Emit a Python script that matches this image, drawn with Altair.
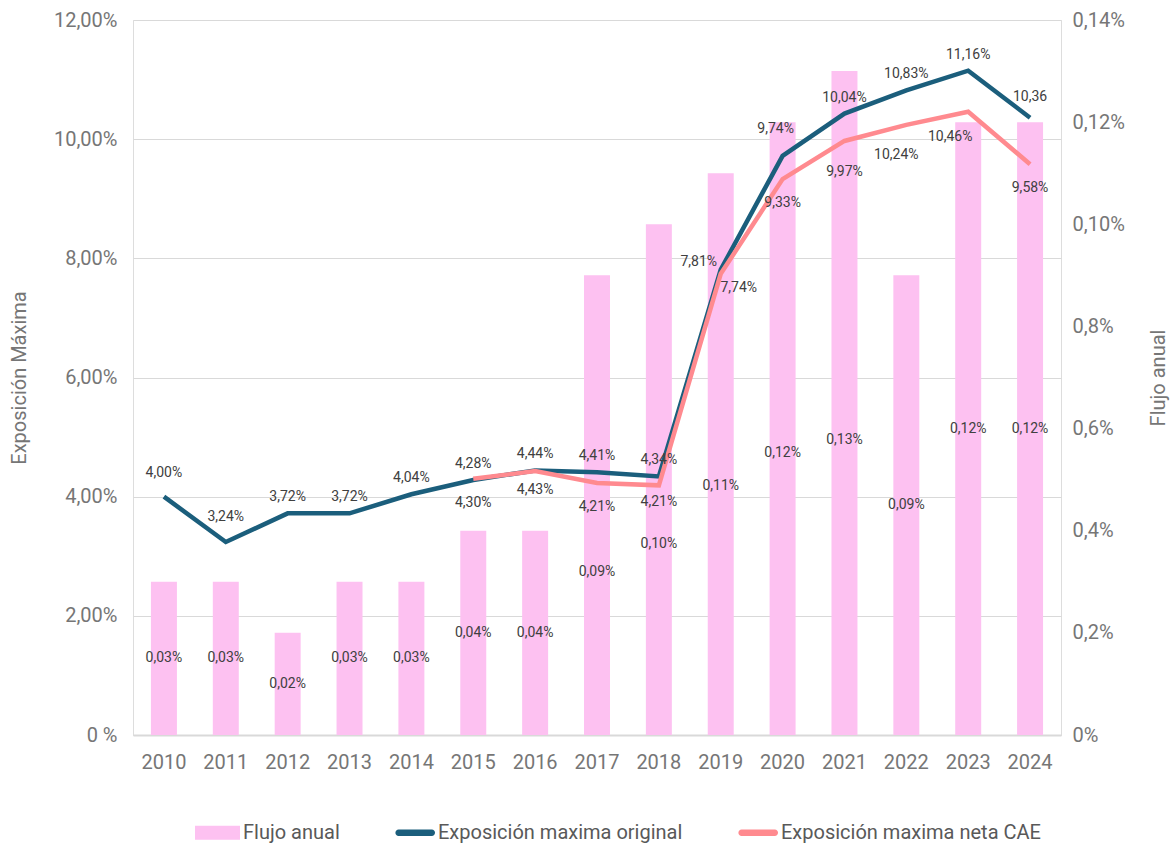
import altair as alt
import pandas as pd

years = list(range(2010, 2025))
flujo = [0.03, 0.03, 0.02, 0.03, 0.03, 0.04, 0.04, 0.09, 0.10, 0.11, 0.12, 0.13, 0.09, 0.12, 0.12]
flujo_labels = ["0,03%", "0,03%", "0,02%", "0,03%", "0,03%", "0,04%", "0,04%", "0,09%",
                "0,10%", "0,11%", "0,12%", "0,13%", "0,09%", "0,12%", "0,12%"]
original = [4.00, 3.24, 3.72, 3.72, 4.04, 4.28, 4.44, 4.41, 4.34, 7.81, 9.72, 10.43, 10.82, 11.15, 10.36]
original_labels = ["4,00%", "3,24%", "3,72%", "3,72%", "4,04%", "4,28%", "4,44%", "4,41%", "4,34%",
                   "7,81%", "9,74%", "10,04%", "10,83%", "11,16%", "10,36"]
neta_years = list(range(2015, 2025))
neta = [4.30, 4.43, 4.23, 4.19, 7.74, 9.33, 9.97, 10.24, 10.46, 9.58]
neta_labels = ["4,30%", "4,43%", "4,21%", "4,21%", "7,74%", "9,33%", "9,97%", "10,24%", "10,46%", "9,58%"]

S_BAR = "Flujo anual"
S_ORIG = "Exposición maxima original"
S_NETA = "Exposición maxima neta CAE"

PINK = "#fdc1f1"
TEAL = "#1b5e7c"
SALMON = "#ff8a8f"
GRID = "#d9d9d9"
AXIS_TXT = "#767676"
LBL_TXT = "#404040"
FONT = "Roboto"

bars_df = pd.DataFrame({"year": years, "value": flujo, "label": flujo_labels, "serie": S_BAR})
orig_df = pd.DataFrame({"year": years, "value": original, "label": original_labels, "serie": S_ORIG})
neta_df = pd.DataFrame({"year": neta_years, "value": neta, "label": neta_labels, "serie": S_NETA})
lines_df = pd.concat([orig_df, neta_df], ignore_index=True)

x_enc = alt.X(
    "year:O",
    scale=alt.Scale(paddingInner=0.58, paddingOuter=0.29),
    axis=alt.Axis(title=None, labelAngle=0, labelFontSize=20, labelColor=AXIS_TXT,
                  labelFont=FONT, domainColor=GRID, domainWidth=2, ticks=False,
                  labelPadding=17, grid=False),
)

LINE_PATH = "M-0.62,-0.14H0.86A0.14,0.14 0 0 1 0.86,0.14H-0.62A0.14,0.14 0 0 1 -0.62,-0.14Z"
BAR_PATH = "M-1,-0.31H1V0.31H-1Z"
color_scale = alt.Scale(domain=[S_BAR, S_ORIG, S_NETA], range=[PINK, TEAL, SALMON])
legend = alt.Legend(
    title=None, orient="none", direction="horizontal", legendX=62, legendY=790,
    labelFontSize=20, labelColor="#595959", labelFont=FONT, labelLimit=0,
    symbolType={"expr": f"datum.value == 'Flujo anual' ? '{BAR_PATH}' : '{LINE_PATH}'"},
    symbolFillColor={"expr": "scale('color', datum.value)"},
    symbolStrokeWidth=0, symbolSize=2025, symbolOpacity=1,
    columnPadding=50, labelOffset=3,
)

right_axis = alt.Axis(
    orient="right", title="Flujo anual", values=[0, 0.02, 0.04, 0.06, 0.08, 0.10, 0.12, 0.14],
    labelExpr="datum.value == 0 ? '0%' : '0,' + format(round(datum.value * 100), 'd') + '%'",
    grid=False, ticks=False, domain=False, labelFontSize=20, labelColor=AXIS_TXT, labelFont=FONT,
    labelPadding=11, titleFontSize=20, titleColor=AXIS_TXT, titleFont=FONT, titleFontWeight="normal",
    titleAngle=270, titlePadding=44,
)
y_right_scale = alt.Scale(domain=[0, 0.14], nice=False)
y_right = alt.Y("value:Q", scale=y_right_scale, axis=right_axis)

bars = alt.Chart(bars_df).mark_bar().encode(
    x=x_enc, y=y_right,
    color=alt.Color("serie:N", scale=color_scale, legend=legend),
)

# label nudges (px) for bar labels that sit under the line labels
bar_dy = {2017: 67, 2018: 64, 2019: 32, 2020: 24, 2021: 37}

def bar_txt(df, dy):
    return alt.Chart(df).transform_calculate(mid="datum.value / 2").mark_text(
        fontSize=14, color=LBL_TXT, font=FONT, dy=dy
    ).encode(
        x=x_enc,
        y=alt.Y("mid:Q", scale=y_right_scale, axis=right_axis),
        text="label:N",
    )

bar_layers = [bars, bar_txt(bars_df[~bars_df.year.isin(list(bar_dy))], 0)]
for yr, dy in bar_dy.items():
    bar_layers.append(bar_txt(bars_df[bars_df.year == yr], dy))
bar_layer = alt.layer(*bar_layers)

left_axis = alt.Axis(
    orient="left", title="Exposición Máxima", values=[0, 2, 4, 6, 8, 10, 12],
    labelExpr="datum.value == 0 ? '0 %' : replace(format(datum.value, '.2f'), '.', ',') + '%'",
    grid=True, gridColor=GRID, gridWidth=1, ticks=False, domain=False,
    labelFontSize=20, labelColor=AXIS_TXT, labelFont=FONT, labelPadding=16,
    titleFontSize=20, titleColor=AXIS_TXT, titleFont=FONT, titleFontWeight="normal", titlePadding=24,
)
y_left = alt.Y("value:Q", scale=alt.Scale(domain=[0, 12], nice=False), axis=left_axis)

lines = alt.Chart(lines_df).mark_line(strokeWidth=4.5).encode(
    x=x_enc, y=y_left,
    color=alt.Color("serie:N", scale=color_scale, legend=legend),
    detail="serie:N",
)

def txt(df, dx, dy):
    return alt.Chart(df).mark_text(fontSize=14, color=LBL_TXT, font=FONT, dx=dx, dy=dy).encode(
        x=x_enc, y=y_left, text="label:N"
    )

# label placement: default offset plus per-year nudges (dx, dy) in px
orig_default = (0, -16)
orig_nudge = {2010: (0, -24), 2011: (0, -25), 2019: (-22, -8), 2020: (-7, -27), 2024: (0, -21)}
neta_default = (0, 24)
neta_nudge = {2016: (0, 19), 2018: (0, 17), 2019: (18, 14), 2021: (0, 31), 2022: (-10, 30), 2023: (-18, 25)}

label_layers = []
for df, default, nudge in [(orig_df, orig_default, orig_nudge), (neta_df, neta_default, neta_nudge)]:
    label_layers.append(txt(df[~df.year.isin(list(nudge))], *default))
    for yr, (dx, dy) in nudge.items():
        label_layers.append(txt(df[df.year == yr], dx, dy))

line_layer = alt.layer(lines, *label_layers)

chart = alt.layer(bar_layer, line_layer).resolve_scale(y="independent").properties(
    width=928, height=715,
    autosize=alt.AutoSizeParams(type="none"),
    padding={"left": 133, "top": 20, "right": 114, "bottom": 113},
).configure_view(stroke=None).configure(font=FONT)

chart.save("out.html", embed_options={"renderer": "svg", "actions": False})
